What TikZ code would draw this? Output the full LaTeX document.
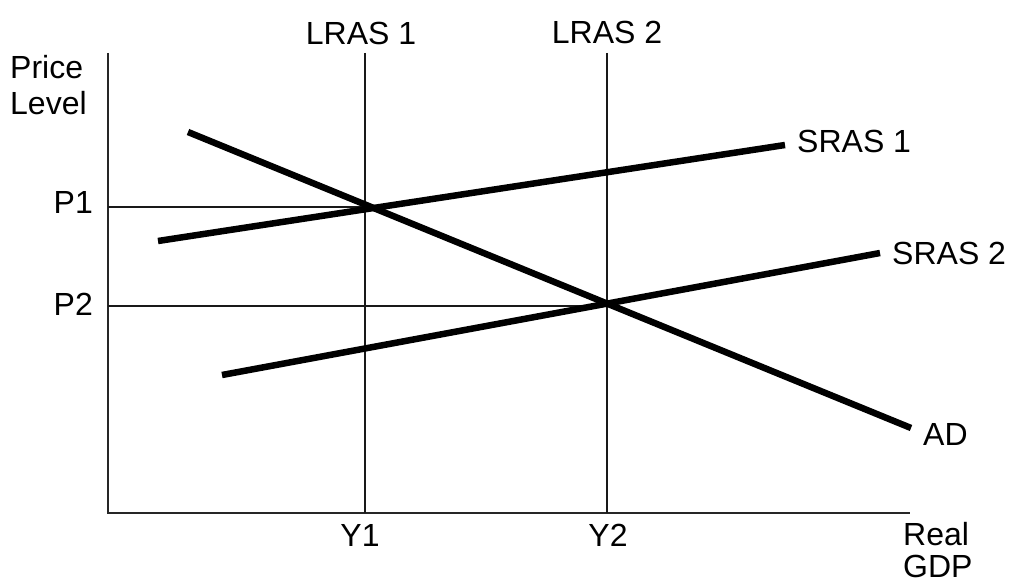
\documentclass[tikz,border=0pt]{standalone}
\usepackage{fontspec}
\setmainfont{Liberation Sans}
\begin{document}
\begin{tikzpicture}[x=1pt,y=-1pt,
  lbl/.style={inner sep=0pt,font=\fontsize{32}{36}\selectfont},
  axisline/.style={line width=2.5pt,black!85},
  guide/.style={line width=2.5pt,black!90},
  curve/.style={line width=6.5pt,black}]
\useasboundingbox (0,0) rectangle (1011,583);
% axes
\coordinate (O) at (108,513);
\coordinate (ytop) at (108,53);
\coordinate (xend) at (910,513);
\draw[axisline] (ytop) -- (O) -- (xend);
% LRAS lines
\coordinate (l1top) at (365,53);
\coordinate (l1bot) at (365,513);
\coordinate (l2top) at (607,53);
\coordinate (l2bot) at (607,513);
\draw[guide] (l1top) -- (l1bot);
\draw[guide] (l2top) -- (l2bot);
% price guides
\coordinate (p1a) at (108,207);
\coordinate (e1) at (370,207);
\coordinate (p2a) at (108,306);
\coordinate (e2) at (607,306);
\draw[guide] (p1a) -- (e1);
\draw[guide] (p2a) -- (e2);
% curves
\coordinate (s1a) at (158,241);
\coordinate (s1b) at (785,145);
\coordinate (s2a) at (222,375);
\coordinate (s2b) at (880,253);
\coordinate (ada) at (188,132);
\coordinate (adb) at (911,428);
\draw[curve] (s1a) -- (s1b);
\draw[curve] (s2a) -- (s2b);
\draw[curve] (ada) -- (adb);
% labels
\node[lbl,anchor=base west] (price) at (10,79) {Price};
\node[lbl,anchor=base west] (level) at (10,114) {Level};
\node[lbl,anchor=base] (lras1) at (361,45) {LRAS 1};
\node[lbl,anchor=base] (lras2) at (607,44) {LRAS 2};
\node[lbl,anchor=base east] (P1) at (93,213) {P1};
\node[lbl,anchor=base east] (P2) at (93,315) {P2};
\node[lbl,anchor=base west] (sras1) at (797,152) {SRAS 1};
\node[lbl,anchor=base west] (sras2) at (892,264) {SRAS 2};
\node[lbl,anchor=base west] (AD) at (923,445) {AD};
\node[lbl,anchor=base] (Y1) at (360,546) {Y1};
\node[lbl,anchor=base] (Y2) at (608,546) {Y2};
\node[lbl,anchor=base west] (real) at (903,545) {Real};
\node[lbl,anchor=base west] (gdp) at (903,577) {GDP};
\end{tikzpicture}
\end{document}
